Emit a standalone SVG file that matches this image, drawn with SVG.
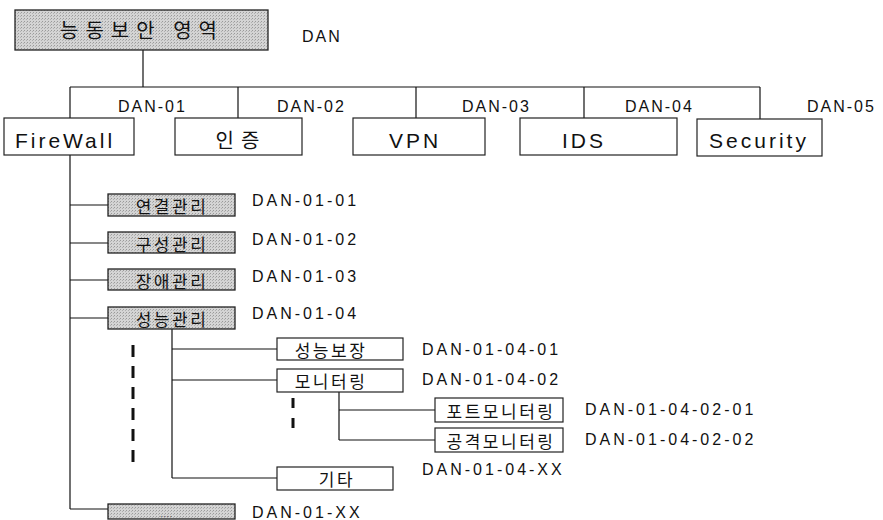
<svg xmlns="http://www.w3.org/2000/svg" width="883" height="520" viewBox="0 0 883 520">
<defs>
<pattern id="ht" width="3" height="3" patternUnits="userSpaceOnUse">
<rect width="3" height="3" fill="#d4d4d4"/>
<rect x="0" y="0" width="1" height="1" fill="#9a9a9a"/>
<rect x="2" y="1" width="1" height="1" fill="#b0b0b0"/>
</pattern>
</defs>
<style>
.w{fill:#fff;stroke:#222;stroke-width:1.2}
.g{fill:url(#ht);stroke:#222;stroke-width:1.3}
.ln{stroke:#111;stroke-width:1.2;fill:none}
.dash{stroke:#111;stroke-width:3;fill:none}
.lat{font-family:"Liberation Sans",Arial,sans-serif;fill:#111}
.kr{font-family:"Noto Sans CJK KR","Noto Sans",sans-serif;fill:#111}
.big{font-size:21px;letter-spacing:3px;text-anchor:middle}
.lbl{font-size:16px;letter-spacing:2px}
.code{font-size:16px;letter-spacing:3px}
.kb{font-size:17px;letter-spacing:2.5px;text-anchor:middle}
</style>
<g id="connectors">
<line class="ln" x1="143" y1="50" x2="143" y2="87"/>
<line class="ln" x1="70" y1="87" x2="760" y2="87"/>
<line class="ln" x1="70" y1="87" x2="70" y2="118"/>
<line class="ln" x1="238" y1="87" x2="238" y2="118"/>
<line class="ln" x1="416" y1="87" x2="416" y2="118"/>
<line class="ln" x1="584" y1="87" x2="584" y2="118"/>
<line class="ln" x1="760" y1="87" x2="760" y2="120"/>
<line class="ln" x1="70" y1="155" x2="70" y2="509"/>
<line class="ln" x1="70" y1="205" x2="108" y2="205"/>
<line class="ln" x1="70" y1="243" x2="108" y2="243"/>
<line class="ln" x1="70" y1="280" x2="108" y2="280"/>
<line class="ln" x1="70" y1="318" x2="108" y2="318"/>
<line class="ln" x1="70" y1="509" x2="108" y2="509"/>
<line class="ln" x1="172" y1="329" x2="172" y2="478"/>
<line class="ln" x1="172" y1="349" x2="277" y2="349"/>
<line class="ln" x1="172" y1="380" x2="277" y2="380"/>
<line class="ln" x1="172" y1="478" x2="277" y2="478"/>
<line class="ln" x1="339" y1="392" x2="339" y2="440"/>
<line class="ln" x1="339" y1="410" x2="435" y2="410"/>
<line class="ln" x1="339" y1="440" x2="435" y2="440"/>
<line class="dash" x1="133" y1="345" x2="133" y2="468" stroke-dasharray="12 9"/>
<line class="dash" x1="293" y1="398" x2="293" y2="430" stroke-dasharray="10 10"/>
</g>
<g id="root">
<rect class="g" x="15" y="10" width="253" height="40"/>
<text class="kr" x="142" y="38" font-size="20" letter-spacing="7" text-anchor="middle">능동보안 영역</text>
<text class="lat lbl" x="302" y="42">DAN</text>
</g>
<g id="row-labels">
<text class="lat lbl" x="118" y="112">DAN-01</text>
<text class="lat lbl" x="277" y="112">DAN-02</text>
<text class="lat lbl" x="462" y="112">DAN-03</text>
<text class="lat lbl" x="625" y="112">DAN-04</text>
<text class="lat lbl" x="807" y="112">DAN-05</text>
</g>
<g id="firewall"><rect class="w" x="4" y="118" width="130" height="37"/><text class="lat big" x="65" y="148">FireWall</text></g>
<g id="auth"><rect class="w" x="175" y="118" width="127" height="37"/><text class="kr" x="241" y="148" font-size="20" letter-spacing="7" text-anchor="middle">인증</text></g>
<g id="vpn"><rect class="w" x="353" y="118" width="132" height="37"/><text class="lat big" x="415" y="148">VPN</text></g>
<g id="ids"><rect class="w" x="520" y="118" width="157" height="37"/><text class="lat big" x="584" y="148">IDS</text></g>
<g id="security"><rect class="w" x="697" y="119" width="125" height="37"/><text class="lat big" x="759" y="148">Security</text></g>
<g id="n0101"><rect class="g" x="108" y="194" width="127" height="22"/><text class="kr kb" x="172" y="213">연결관리</text><text class="lat code" x="252" y="206">DAN-01-01</text></g>
<g id="n0102"><rect class="g" x="108" y="232" width="127" height="21"/><text class="kr kb" x="172" y="251">구성관리</text><text class="lat code" x="252" y="245">DAN-01-02</text></g>
<g id="n0103"><rect class="g" x="108" y="269" width="127" height="21"/><text class="kr kb" x="172" y="288">장애관리</text><text class="lat code" x="252" y="282">DAN-01-03</text></g>
<g id="n0104"><rect class="g" x="108" y="307" width="127" height="22"/><text class="kr kb" x="172" y="326">성능관리</text><text class="lat code" x="252" y="319">DAN-01-04</text></g>
<g id="n010401"><rect class="w" x="277" y="338" width="126" height="22"/><text class="kr kb" x="331" y="357" letter-spacing="1">성능보장</text><text class="lat code" x="422" y="355">DAN-01-04-01</text></g>
<g id="n010402"><rect class="w" x="277" y="369" width="126" height="23"/><text class="kr kb" x="331" y="388" letter-spacing="1">모니터링</text><text class="lat code" x="422" y="385">DAN-01-04-02</text></g>
<g id="n01040201"><rect class="w" x="435" y="398" width="128" height="24"/><text class="kr kb" x="501" y="418" letter-spacing="4">포트모니터링</text><text class="lat code" x="585" y="415">DAN-01-04-02-01</text></g>
<g id="n01040202"><rect class="w" x="435" y="428" width="128" height="24"/><text class="kr kb" x="501" y="448" letter-spacing="4">공격모니터링</text><text class="lat code" x="585" y="445">DAN-01-04-02-02</text></g>
<g id="n0104xx"><rect class="w" x="277" y="467" width="116" height="23"/><text class="kr kb" x="337" y="486" letter-spacing="4">기타</text><text class="lat code" x="422" y="475">DAN-01-04-XX</text></g>
<g id="n01xx"><rect class="g" x="108" y="504" width="127" height="15"/><text class="lat" x="160" y="517" font-size="8" letter-spacing="1">....</text><text class="lat code" x="252" y="518">DAN-01-XX</text></g>
</svg>
